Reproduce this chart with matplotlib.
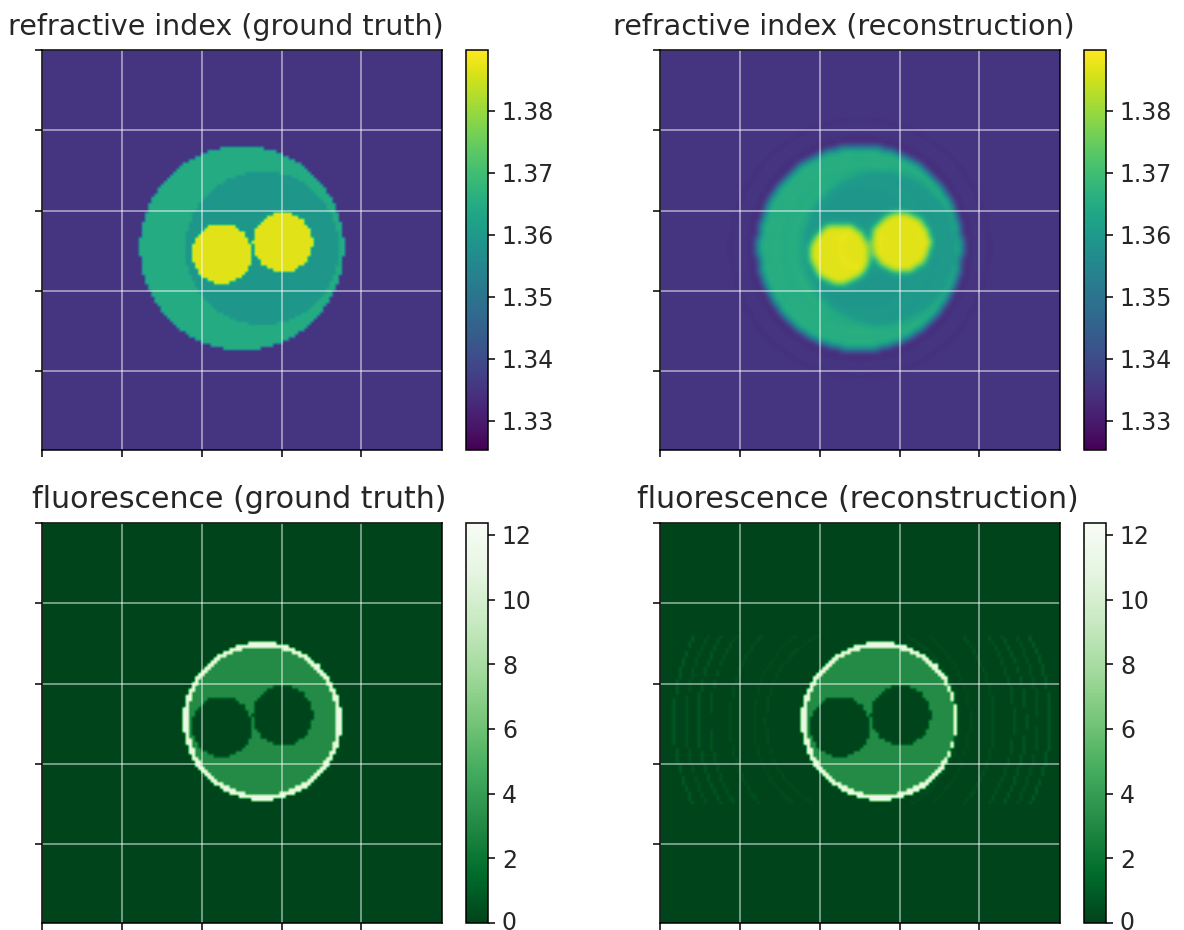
import numpy as np
import matplotlib
matplotlib.use('Agg')
import matplotlib.pyplot as plt
from matplotlib.transforms import ScaledTranslation

# Valores (coordenadas de 0 a 100 sobre cada panel)
n_celdas = 128
centro_celula = (50.0, 49.5)
radio_celula = 25.5
centro_nucleo = (55.1, 49.5)
radio_nucleo = 19.2
centros_nucleolos = [(45.0, 50.9), (60.2, 48.1)]
radio_nucleolo = 7.5

n_fondo = 1.335
n_celula = 1.365
n_nucleo = 1.3595
n_nucleolo = 1.387
n_limites = (1.3253, 1.3898)
n_ticks = [1.33, 1.34, 1.35, 1.36, 1.37, 1.38]

f_nucleo = 3.1
f_borde = 11.4
f_limites = (0, 12.37)
f_ticks = [0, 2, 4, 6, 8, 10, 12]

# Artefactos de la reconstruccion
n_ondas_radios = [5.0, 17.0, 21.0, 24.0, 27.0, 29.5, 32.0]
n_ondas_niveles = [0.0008, 0.0012, 0.0012, 0.0012, -0.0022, 0.0006, -0.0004]
f_arcos_radios = [24, 27, 33, 38, 41, 44, 47]
f_arcos_niveles = [0.35, 0.3, 0.45, 0.55, 0.7, 0.5, 0.8]
suavizado = [0.25, 0.5, 0.25]

x_ticks = [0, 20, 40, 60, 79.8]
y_ticks = [0, 20, 40.2, 60.2, 80.2]

titulos = ['refractive index (ground truth)', 'refractive index (reconstruction)',
           'fluorescence (ground truth)', 'fluorescence (reconstruction)']
titulos_x = [0.46, 0.46, 0.494, 0.494]
titulos_size = [10.25, 10.25, 10.8, 10.8]

# Posiciones en pixeles: izquierda y arriba de cada panel
panel_x = [42, 660]
panel_y = [50, 523]
ANCHO, ALTO = 1184, 930


def distancia(centro):
    ejes = (np.arange(n_celdas) + 0.5) * 100 / n_celdas
    xx, yy = np.meshgrid(ejes, ejes)
    return np.hypot(xx - centro[0], yy - centro[1])


def suavizar(img):
    salida = img.copy()
    for eje in (0, 1):
        salida = np.apply_along_axis(lambda v: np.convolve(np.pad(v, 1, mode='edge'), suavizado, mode='valid'), eje, salida)
    return salida


def indice_real():
    img = np.full((n_celdas, n_celdas), n_fondo)
    img[distancia(centro_celula) <= radio_celula] = n_celula
    img[distancia(centro_nucleo) <= radio_nucleo] = n_nucleo
    for c in centros_nucleolos:
        img[distancia(c) <= radio_nucleolo] = n_nucleolo
    return img


def fluorescencia_real():
    img = np.zeros((n_celdas, n_celdas))
    d = distancia(centro_nucleo)
    img[d <= radio_nucleo] = f_nucleo
    img[np.abs(d - radio_nucleo) <= 0.6] = f_borde
    for c in centros_nucleolos:
        img[distancia(c) <= radio_nucleolo] = 0
    return img


def indice_reconstruido():
    img = indice_real()
    d = distancia(centro_celula)
    for r, nivel in zip(n_ondas_radios, n_ondas_niveles):
        img[np.abs(d - r) <= 0.6] += nivel
    return suavizar(suavizar(img))


def fluorescencia_reconstruida():
    img = fluorescencia_real()
    d = distancia((50.5, 49.5))
    ejes = (np.arange(n_celdas) + 0.5) * 100 / n_celdas
    dy = np.abs(ejes - 49.5)[:, None] * np.ones((1, n_celdas))
    for r, nivel in zip(f_arcos_radios, f_arcos_niveles):
        img[(np.abs(d - r) <= 0.35) & (dy < 21)] = nivel
    return img


def caja(x, y, ancho, alto):
    return [x / ANCHO, 1 - (y + alto) / ALTO, ancho / ANCHO, alto / ALTO]


imagenes = [indice_real(), indice_reconstruido(), fluorescencia_real(), fluorescencia_reconstruida()]
mapas = ['viridis', 'viridis', 'Greens_r', 'Greens_r']
limites = [n_limites, n_limites, f_limites, f_limites]
ticks = [n_ticks, n_ticks, f_ticks, f_ticks]

plt.rcParams['font.family'] = 'DejaVu Sans'
plt.rcParams['axes.linewidth'] = 0.55
plt.rcParams['text.color'] = '#262626'
plt.rcParams['xtick.labelcolor'] = '#262626'
plt.rcParams['ytick.labelcolor'] = '#262626'

fig = plt.figure(figsize=(ANCHO / 200, ALTO / 200), dpi=200)

for i in range(4):
    x = panel_x[i % 2]
    y = panel_y[i // 2]
    ax = fig.add_axes(caja(x, y, 400, 400))
    im = ax.imshow(imagenes[i], cmap=mapas[i], vmin=limites[i][0], vmax=limites[i][1],
                   extent=(0, 100, 100, 0), interpolation='bilinear')
    ax.set_xticks(x_ticks)
    ax.set_yticks(y_ticks)
    ax.set_xticklabels([])
    ax.set_yticklabels([])
    ax.tick_params(length=2.6, width=0.55)
    ax.grid(True, color='white', alpha=0.6, linewidth=0.55)
    ax.set_title(titulos[i], fontsize=titulos_size[i], x=titulos_x[i], pad=5.5)

    cax = fig.add_axes(caja(x + 424, y, 22, 400))
    cb = fig.colorbar(im, cax=cax, ticks=ticks[i])
    cb.ax.tick_params(length=2.6, width=0.55, labelsize=8.5, pad=2.4)
    cb.outline.set_linewidth(0.55)
    # el 0 queda pegado al borde inferior de la figura
    if i >= 2:
        etiqueta = cb.ax.get_yticklabels()[0]
        etiqueta.set_transform(etiqueta.get_transform() + ScaledTranslation(0, 3 / 200, fig.dpi_scale_trans))

fig.savefig('out.png', dpi=200)
